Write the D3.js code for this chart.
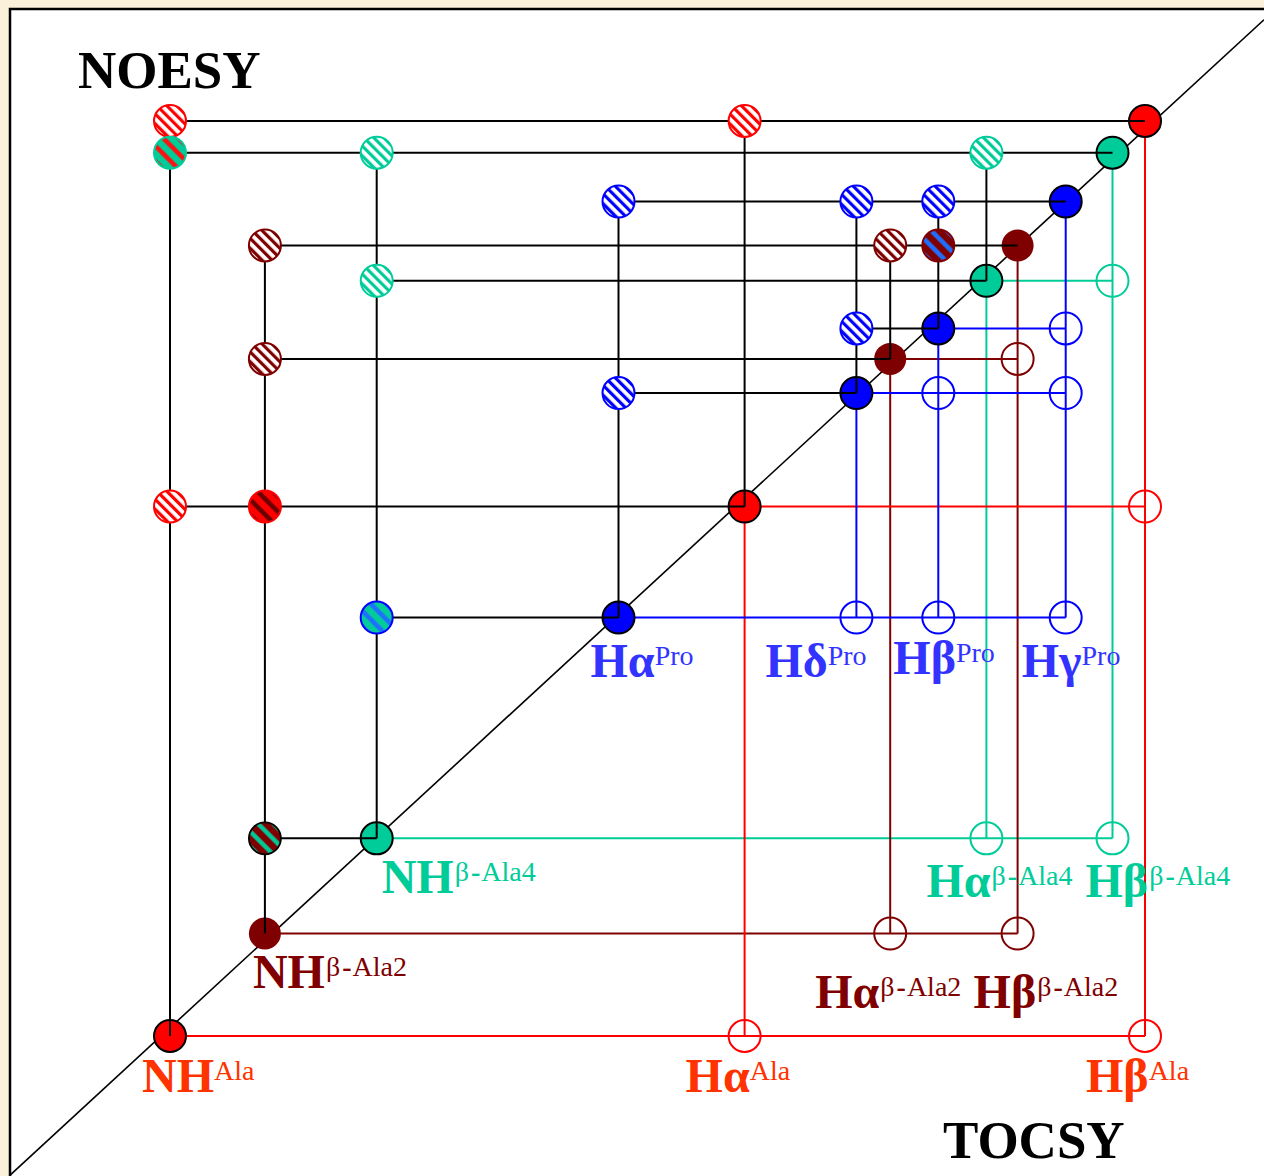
<!DOCTYPE html>
<html>
<head>
<meta charset="utf-8">
<script src="https://cdn.jsdelivr.net/npm/d3@7"></script>
<style>
  html, body { margin: 0; padding: 0; background: #fbf1da; }
  svg { display: block; }
</style>
</head>
<body>
<svg id="chart" width="1264" height="1176"></svg>
<script>
// ---------------- DATA ----------------
// Spin systems (residues)
const systems = ["Ala", "β-Ala2", "β-Ala4", "Pro"];

// Resonances: id, residue, proton name, shift along F2 (TOCSY/columns) and F1 (rows), schematic ppm
const resonanceIds    = ["NH_Ala", "Ha_Ala", "Hb_Ala", "NH_bA2", "Ha_bA2", "Hb_bA2", "NH_bA4", "Ha_bA4", "Hb_bA4", "Ha_Pro", "Hd_Pro", "Hb_Pro", "Hg_Pro"];
const resonanceSystem = ["Ala", "Ala", "Ala", "β-Ala2", "β-Ala2", "β-Ala2", "β-Ala4", "β-Ala4", "β-Ala4", "Pro", "Pro", "Pro", "Pro"];
const resonanceName   = ["NH", "Hα", "Hβ", "NH", "Hα", "Hβ", "NH", "Hα", "Hβ", "Hα", "Hδ", "Hβ", "Hγ"];
const shiftF2         = [8.50, 4.08, 1.00, 7.77, 2.96, 1.98, 6.91, 2.22, 1.25, 5.05, 3.22, 2.59, 1.61];
const shiftF1         = [8.50, 4.16, 1.00, 7.66, 2.95, 2.02, 6.88, 2.31, 1.26, 5.07, 3.23, 2.70, 1.66];

// NOESY cross peaks (upper-left triangle): column resonance, row resonance
const noeCol    = ["NH_Ala", "Ha_Ala", "NH_Ala", "NH_bA4", "Ha_bA4", "Ha_Pro", "Hd_Pro", "Hb_Pro", "NH_bA2", "Ha_bA2", "Hb_Pro", "NH_bA4", "Hd_Pro", "NH_bA2", "Ha_Pro", "NH_Ala", "NH_bA2", "NH_bA4", "NH_bA2"];
const noeRow    = ["Hb_Ala", "Hb_Ala", "Hb_bA4", "Hb_bA4", "Hb_bA4", "Hg_Pro", "Hg_Pro", "Hg_Pro", "Hb_bA2", "Hb_bA2", "Hb_bA2", "Ha_bA4", "Hb_Pro", "Ha_bA2", "Hd_Pro", "Ha_Ala", "Ha_Ala", "Ha_Pro", "NH_bA4"];
// inter-residue NOEs: residue of the solid base (null = intra-residue, white base) and residue of the stripes
const noeBase   = [null, null, "β-Ala4", null, null, null, null, null, null, null, "β-Ala2", null, null, null, null, null, "Ala", "β-Ala4", "β-Ala2"];
const noeStripe = ["Ala", "Ala", "Ala", "β-Ala4", "β-Ala4", "Pro", "Pro", "Pro", "β-Ala2", "β-Ala2", "Pro", "β-Ala4", "Pro", "β-Ala2", "Pro", "Ala", "β-Ala2", "Pro", "β-Ala4"];
const noeOutline = [null, null, "β-Ala4", null, null, null, null, null, null, null, "β-Ala2", null, null, null, null, null, "Ala", "Pro", "black"];

// Diagonal (F1 = F2 region), end points in schematic ppm [F2, F1]
const diagonalEnds = [[9.73, 9.64], [0.085, 0.17]];

const titles = ["NOESY", "TOCSY"];

// ---------------- STYLE / LAYOUT ----------------
const W = 1264, H = 1176;
const peakColor  = {"Ala": "#ff0000", "β-Ala2": "#7f0000", "β-Ala4": "#00cc99", "Pro": "#0000ff", "black": "#000000"};
const stripeMixColor = {"Ala": "#ff1010", "β-Ala2": "#6a0000", "β-Ala4": "#00c896", "Pro": "#1f6fff"};
const labelColor = {"Ala": "#ff3300", "β-Ala2": "#800000", "β-Ala4": "#00cc99", "Pro": "#3333ff"};
const diagStroke = {"Ala": "#000", "β-Ala2": "none", "β-Ala4": "#000", "Pro": "#000"};
const tocsyOrder = ["β-Ala4", "β-Ala2", "Ala", "Pro"];
const labelLayout = {
  NH_Ala: {dx: -28, dy: 56}, Ha_Ala: {dx: -59, dy: 56}, Hb_Ala: {dx: -59, dy: 56},
  NH_bA2: {dx: -12, dy: 54}, Ha_bA2: {dx: -75, dy: 74}, Hb_bA2: {dx: -44, dy: 74},
  NH_bA4: {dx: 5, dy: 55},   Ha_bA4: {dx: -60, dy: 59}, Hb_bA4: {dx: -27, dy: 59},
  Ha_Pro: {dx: -28, dy: 59}, Hd_Pro: {dx: -91, dy: 59}, Hb_Pro: {dx: -45, dy: 56}, Hg_Pro: {dx: -44, dy: 59}
};
const titlePos = [[78, 88], [943, 1158]];
const R = 16;
const serif = "'Liberation Serif', 'Times New Roman', Times, serif";

// ---------------- SCALES ----------------
const x = d3.scaleLinear().domain([8.5, 1.0]).range([170, 1145]);
const y = d3.scaleLinear().domain([8.5, 1.0]).range([1036, 121]);

const res = resonanceIds.map((id, i) => ({
  id, system: resonanceSystem[i], name: resonanceName[i], f2: shiftF2[i], f1: shiftF1[i]
}));
const byId = Object.fromEntries(res.map(r => [r.id, r]));
const noes = noeCol.map((c, i) => ({
  col: byId[c], row: byId[noeRow[i]], base: noeBase[i], stripe: noeStripe[i], outline: noeOutline[i], idx: i
}));

const svg = d3.select("#chart");
const defs = svg.append("defs");

// frame
svg.append("rect").attr("x", 10).attr("y", 9).attr("width", W + 20).attr("height", H + 20)
  .attr("fill", "#fff").attr("stroke", "#000").attr("stroke-width", 2.5);

// diagonal
svg.append("line")
  .attr("x1", x(diagonalEnds[0][0])).attr("y1", y(diagonalEnds[0][1]))
  .attr("x2", x(diagonalEnds[1][0])).attr("y2", y(diagonalEnds[1][1]))
  .attr("stroke", "#000").attr("stroke-width", 1.6);

// ---------------- TOCSY (lower-right) ----------------
const gT = svg.append("g");
const tocsyCross = [];
tocsyOrder.forEach(sys => {
  const m = res.filter(r => r.system === sys).sort((a, b) => d3.descending(a.f2, b.f2));
  const last = m[m.length - 1], first = m[0];
  const col = peakColor[sys];
  m.forEach((r, i) => {
    if (i < m.length - 1) {
      gT.append("line").attr("x1", x(r.f2)).attr("y1", y(r.f1)).attr("x2", x(last.f2)).attr("y2", y(r.f1))
        .attr("stroke", col).attr("stroke-width", 2);
    }
    if (i > 0) {
      gT.append("line").attr("x1", x(r.f2)).attr("y1", y(r.f1)).attr("x2", x(r.f2)).attr("y2", y(first.f1))
        .attr("stroke", col).attr("stroke-width", 2);
    }
    m.forEach((s, j) => { if (j > i) tocsyCross.push({col: s, row: r, sys}); });
  });
});
gT.selectAll("circle.open").data(tocsyCross).join("circle")
  .attr("class", "open")
  .attr("cx", d => x(d.col.f2)).attr("cy", d => y(d.row.f1)).attr("r", R)
  .attr("fill", "none").attr("stroke", d => peakColor[d.sys]).attr("stroke-width", 2);

// ---------------- Diagonal peaks ----------------
svg.append("g").selectAll("circle").data(res).join("circle")
  .attr("cx", d => x(d.f2)).attr("cy", d => y(d.f1)).attr("r", R)
  .attr("fill", d => peakColor[d.system])
  .attr("stroke", d => diagStroke[d.system]).attr("stroke-width", 2);

// ---------------- NOESY lines ----------------
const gN = svg.append("g").attr("stroke", "#000").attr("stroke-width", 2);
res.forEach(r => {
  const inRow = noes.filter(n => n.row === r);
  if (inRow.length) {
    const minF2 = d3.max(inRow, n => n.col.f2);
    gN.append("line").attr("x1", x(minF2)).attr("y1", y(r.f1)).attr("x2", x(r.f2)).attr("y2", y(r.f1));
  }
  const inCol = noes.filter(n => n.col === r);
  if (inCol.length) {
    const topF1 = d3.min(inCol, n => n.row.f1);
    gN.append("line").attr("x1", x(r.f2)).attr("y1", y(r.f1)).attr("x2", x(r.f2)).attr("y2", y(topF1));
  }
});

// ---------------- NOESY peaks (hatched) ----------------
noes.forEach(n => {
  const id = "pat" + n.idx;
  const intra = n.base === null;
  const period = intra ? 7 : 11;
  const sw = intra ? 3.2 : 4.5;
  const p = defs.append("pattern").attr("id", id).attr("patternUnits", "userSpaceOnUse")
    .attr("width", period).attr("height", period)
    .attr("patternTransform", `translate(${x(n.col.f2)},${y(n.row.f1)}) rotate(-45)`);
  p.append("rect").attr("width", period).attr("height", period)
    .attr("fill", intra ? "#ffffff" : peakColor[n.base]);
  p.append("rect").attr("x", intra ? 0 : (period - sw) / 2).attr("width", sw).attr("height", period)
    .attr("fill", intra ? peakColor[n.stripe] : stripeMixColor[n.stripe]);
});
svg.append("g").selectAll("circle").data(noes).join("circle")
  .attr("cx", d => x(d.col.f2)).attr("cy", d => y(d.row.f1)).attr("r", R)
  .attr("fill", d => `url(#pat${d.idx})`)
  .attr("stroke", d => peakColor[d.outline || d.stripe]).attr("stroke-width", d => d.outline === "black" ? 1.8 : 2);

// ---------------- Labels ----------------
const gL = svg.append("g").attr("font-family", serif);
res.forEach(r => {
  const lay = labelLayout[r.id];
  const firstOfSys = res.filter(s => s.system === r.system).sort((a, b) => d3.descending(a.f2, b.f2))[0];
  const t = gL.append("text")
    .attr("x", x(r.f2) + lay.dx).attr("y", y(firstOfSys.f1) + lay.dy)
    .attr("fill", labelColor[r.system]);
  t.append("tspan").attr("font-size", 48).attr("font-weight", "bold").text(r.name);
  const sup = r.system;
  if (sup.startsWith("β-")) {
    t.append("tspan").attr("font-size", 28).attr("dy", -12).attr("dx", 1).text("β");
    t.append("tspan").attr("font-size", 28).attr("font-weight", "bold").attr("dx", 2).text("-");
    t.append("tspan").attr("font-size", 28).attr("dx", 1).text(sup.slice(2));
  } else {
    t.append("tspan").attr("font-size", 28).attr("dy", -12).text(sup);
  }
});

svg.append("g").selectAll("text").data(titles).join("text")
  .attr("x", (d, i) => titlePos[i][0]).attr("y", (d, i) => titlePos[i][1])
  .attr("font-family", serif).attr("font-weight", "bold").attr("font-size", 53)
  .attr("fill", "#000").text(d => d);
</script>
</body>
</html>
